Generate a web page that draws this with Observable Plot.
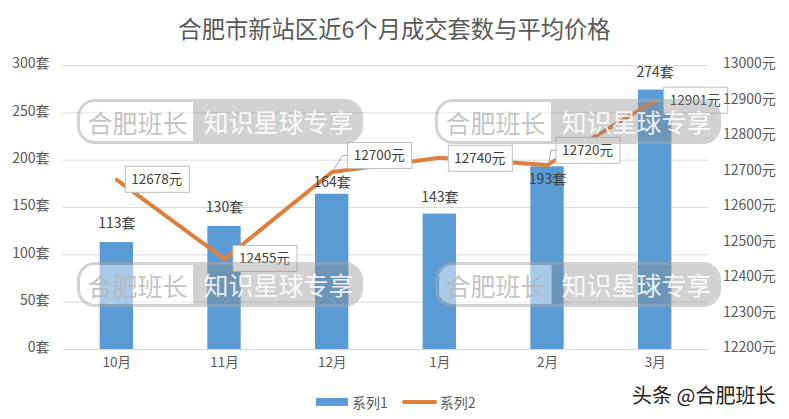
<!DOCTYPE html>
<html><head><meta charset="utf-8">
<script src="https://cdn.jsdelivr.net/npm/d3@7"></script>
<script src="https://cdn.jsdelivr.net/npm/@observablehq/plot@0.6"></script>
<style>
html,body{margin:0;padding:0;background:#fff;overflow:hidden}
body{width:789px;height:419px;position:relative;font-family:"Noto Sans CJK SC","Noto Sans",sans-serif;color:#595959}
#title{height:48px;line-height:57px;text-align:center;font-size:23.3px;color:#595959}
#chart svg{display:block;background:#fff}
#legend{position:absolute;left:316px;top:392px;height:20px;display:flex;align-items:center;font-size:14px;color:#595959}
.swatch{display:inline-block;width:32px;height:8px;background:#5b9bd5;margin-right:4px}
.swatch2{display:inline-block;width:35px;height:4px;border-radius:2px;background:#e07f39;margin:0 3px 0 14px}
.wm{position:absolute;width:286px;height:45px;box-sizing:border-box;border:3px solid rgba(170,170,170,.55);border-radius:18px;overflow:hidden;font-size:25px;line-height:40px;white-space:nowrap;opacity:.95}
.wm .l{position:absolute;left:1px;top:0;width:113px;height:100%;background:rgba(255,255,255,.5);color:rgba(185,185,185,.9);text-align:center}
.wm .r{position:absolute;left:113px;top:-3px;width:171px;height:45px;background:rgba(140,140,140,.42);color:rgba(255,255,255,.92);text-align:center;line-height:45px;padding-right:2px}
#brand{position:absolute;left:632px;top:380px;font-size:20px;color:#222;text-shadow:0 0 1px #fff;white-space:nowrap}
</style></head><body>
<div id="title">合肥市新站区近6个月成交套数与平均价格</div>
<div id="chart"></div>
<div id="legend"><span class="swatch"></span>系列1<span class="swatch2"></span>系列2</div>
<div class="wm" style="left:77px;top:99px"><span class="l">合肥班长</span><span class="r">知识星球专享</span></div>
<div class="wm" style="left:435px;top:99px"><span class="l">合肥班长</span><span class="r">知识星球专享</span></div>
<div class="wm" style="left:77px;top:262px"><span class="l">合肥班长</span><span class="r">知识星球专享</span></div>
<div class="wm" style="left:435px;top:262px"><span class="l">合肥班长</span><span class="r">知识星球专享</span></div>
<div id="brand">头条 @合肥班长</div>
<script>
const months = ["10月","11月","12月","1月","2月","3月"];
const deals = [113,130,164,143,193,274];
const prices = [12678,12455,12700,12740,12720,12901];
const dealTicks = [0,50,100,150,200,250,300];
const priceTicks = [12200,12300,12400,12500,12600,12700,12800,12900,13000];
const dealLabelDy = [-19,-19,-12,-17,13,-18];
const boxDx = [9,9,16,9,9,9];
const boxDy = [0,0,-16,1,-14,0];
const leader = [false,false,true,false,true,false];

const priceMin = 12200, priceMax = 13000, dealMax = 300;
const toDeals = p => (p - priceMin) / (priceMax - priceMin) * dealMax;
const font = '"Noto Sans CJK SC","Noto Sans",sans-serif';
const rows = months.map((m,i)=>({m, deal:deals[i], price:prices[i], y2:toDeals(prices[i]), i}));

const priceBoxes = (index, {x, y}) => {
  const g = d3.create("svg:g").attr("font-family", font).attr("font-size", 13.5);
  const half = x.bandwidth()/2;
  for (const r of rows) {
    const px = x(r.m)+half, py = y(r.y2);
    const bx = px+boxDx[r.i], cy = py+boxDy[r.i];
    if (leader[r.i]) g.append("path").attr("fill","none").attr("stroke","#a6a6a6")
      .attr("d",`M${px+2},${py-2}L${bx-5},${cy}L${bx},${cy}`);
    g.append("rect").attr("x",bx).attr("y",cy-13).attr("width",64).attr("height",26)
      .attr("fill","#fff").attr("stroke","#bfbfbf");
    g.append("text").attr("x",bx+31.5).attr("y",cy).attr("dy","0.36em")
      .attr("text-anchor","middle").attr("fill","#404040").text(r.price+"元");
  }
  return g.node();
};

const plot = Plot.plot({
  width:789, height:337,
  marginTop:17, marginBottom:36, marginLeft:62.5, marginRight:80.5,
  style:{fontFamily:font, fontSize:"14px", color:"#595959", background:"#fff"},
  x:{type:"band", domain:months, paddingInner:0.69, paddingOuter:0.345, round:false, label:null},
  y:{domain:[0,dealMax], label:null},
  marks:[
    Plot.gridY(dealTicks,{stroke:"#d9d9d9", strokeOpacity:1}),
    Plot.axisX({tickSize:0, tickPadding:8, label:null, fontSize:13.5}),
    Plot.axisY(dealTicks,{anchor:"left", tickSize:0, tickPadding:13.5, label:null, dy:-1.5, fontSize:14, tickFormat:d=>d+"套"}),
    Plot.barY(rows,{x:"m", y:"deal", fill:"#5b9bd5"}),
    Plot.line(rows,{x:"m", y:"y2", stroke:"#e07f39", strokeWidth:4, strokeLinecap:"round", strokeLinejoin:"round"}),
    ...rows.map(r=>Plot.text([r],{x:"m", y:"deal", text:d=>d.deal+"套", dy:dealLabelDy[r.i], fill:"#404040", fontSize:14})),
    priceBoxes,
    Plot.axisY(priceTicks.map(toDeals),{anchor:"right", tickSize:0, tickPadding:14, label:null, dy:-1.5, textAnchor:"start", fontSize:14,
      tickFormat:d=>Math.round(d/dealMax*(priceMax-priceMin)+priceMin)+"元"})
  ]
});
document.getElementById("chart").append(plot);
</script>
</body></html>
